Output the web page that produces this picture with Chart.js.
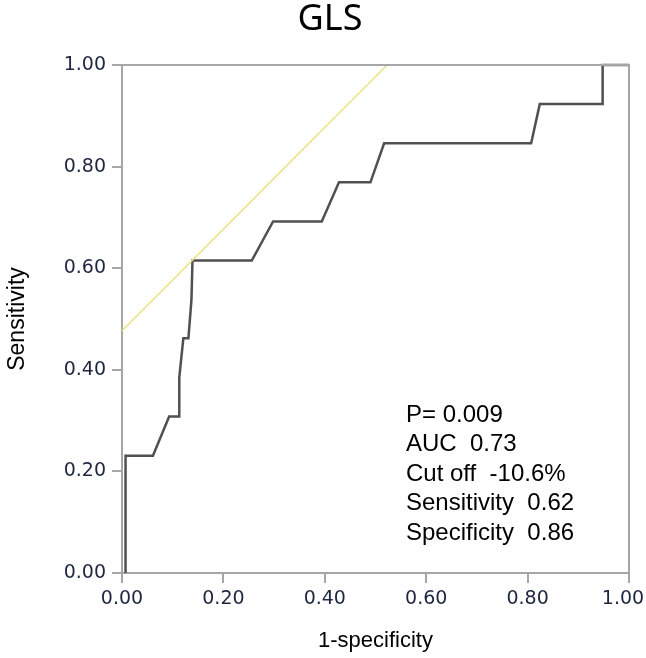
<!DOCTYPE html>
<html lang="en">
<head>
    <meta charset="UTF-8">
    <title>GLS ROC</title>
    <style>
        body {
            margin: 0;
            background-color: #fff;
        }

        .chart-container {
            width: 646px;
            height: 658px;
        }
    </style>
    <script src="https://cdn.jsdelivr.net/npm/chart.js"></script>
</head>
<body>
    <div class="chart-container">
        <canvas id="rocChart" width="646" height="658"></canvas>
    </div>
    <script>
        // ROC curve (1-specificity, sensitivity)
        const fprValues = [0.007, 0.007, 0.061, 0.093, 0.113, 0.113, 0.121, 0.131, 0.137, 0.139, 0.256, 0.298, 0.394, 0.428, 0.490, 0.517, 0.807, 0.824, 0.948, 0.948, 1.0];
        const tprValues = [0.0, 0.231, 0.231, 0.308, 0.308, 0.385, 0.462, 0.462, 0.538, 0.615, 0.615, 0.692, 0.692, 0.769, 0.769, 0.846, 0.846, 0.923, 0.923, 1.0, 1.0];

        // tangent line through the cut-off point
        const tangentX = [0.0, 0.523];
        const tangentY = [0.477, 1.0];

        const tickValues = [0, 0.2, 0.4, 0.6, 0.8, 1.0];
        const statLines = ['P= 0.009', 'AUC  0.73', 'Cut off  -10.6%', 'Sensitivity  0.62', 'Specificity  0.86'];

        const axisGray = '#a6a6a6';
        const tickFont = { family: 'DejaVu Sans', size: 19 };
        const tickColor = '#1e2640';

        const framePlugin = {
            id: 'frame',
            afterDraw(chart) {
                const ctx = chart.ctx;
                const a = chart.chartArea;
                ctx.save();
                ctx.strokeStyle = axisGray;
                ctx.lineWidth = 2;
                ctx.beginPath();
                ctx.moveTo(a.left, a.top);
                ctx.lineTo(a.right, a.top);
                ctx.lineTo(a.right, a.bottom);
                ctx.stroke();

                // title
                ctx.fillStyle = '#000';
                ctx.font = '36px "Noto Sans"';
                ctx.textAlign = 'center';
                ctx.textBaseline = 'middle';
                ctx.fillText('GLS', 330, 20);

                // stats block
                ctx.font = '24px "Liberation Sans"';
                ctx.textAlign = 'left';
                statLines.forEach(function (line, i) {
                    ctx.fillText(line, 406, 415 + i * 29.6);
                });
                ctx.restore();
            }
        };

        const ctx = document.getElementById('rocChart').getContext('2d');

        new Chart(ctx, {
            type: 'scatter',
            data: {
                datasets: [{
                    data: tangentX.map((x, i) => ({ x: x, y: tangentY[i] })),
                    showLine: true,
                    borderColor: 'rgb(232, 226, 128)',
                    borderWidth: 1.5,
                    pointRadius: 0,
                    clip: false
                }, {
                    data: fprValues.map((x, i) => ({ x: x, y: tprValues[i] })),
                    showLine: true,
                    borderColor: '#505050',
                    borderWidth: 2.5,
                    pointRadius: 0,
                    clip: false
                }]
            },
            options: {
                responsive: false,
                animation: false,
                layout: {
                    padding: { top: 65, right: 17, left: 0, bottom: 0 }
                },
                plugins: {
                    legend: { display: false },
                    tooltip: { enabled: false }
                },
                scales: {
                    x: {
                        type: 'linear',
                        min: 0,
                        max: 1,
                        afterBuildTicks: function (scale) {
                            scale.ticks = tickValues.map(v => ({ value: v }));
                        },
                        afterFit: function (scale) {
                            scale.height = 658 - 573;
                            scale.paddingLeft = 0;
                            scale.paddingRight = 0;
                        },
                        border: { display: true, color: axisGray, width: 2 },
                        grid: {
                            drawOnChartArea: false,
                            drawTicks: true,
                            tickLength: 10,
                            color: axisGray,
                            lineWidth: 2
                        },
                        ticks: {
                            font: tickFont,
                            color: tickColor,
                            padding: 5,
                            maxRotation: 0,
                            // last label nudged left so it stays on the canvas
                            callback: v => v === 1 ? '1.00\u00a0\u00a0' : v.toFixed(2)
                        },
                        title: {
                            display: true,
                            text: '1-specificity',
                            font: { family: 'Liberation Sans', size: 22 },
                            color: '#000',
                            padding: { top: 20 }
                        }
                    },
                    y: {
                        type: 'linear',
                        min: 0,
                        max: 1,
                        afterBuildTicks: function (scale) {
                            scale.ticks = tickValues.map(v => ({ value: v }));
                        },
                        afterFit: function (scale) {
                            scale.width = 122;
                        },
                        border: { display: true, color: axisGray, width: 2 },
                        grid: {
                            drawOnChartArea: false,
                            drawTicks: true,
                            tickLength: 10,
                            color: axisGray,
                            lineWidth: 2
                        },
                        ticks: {
                            font: tickFont,
                            color: tickColor,
                            padding: 6,
                            callback: v => v.toFixed(2)
                        },
                        title: {
                            display: true,
                            text: 'Sensitivity',
                            font: { family: 'Liberation Sans', size: 23 },
                            color: '#000',
                            padding: { bottom: 0 }
                        }
                    }
                }
            },
            plugins: [framePlugin]
        });
    </script>
</body>
</html>
